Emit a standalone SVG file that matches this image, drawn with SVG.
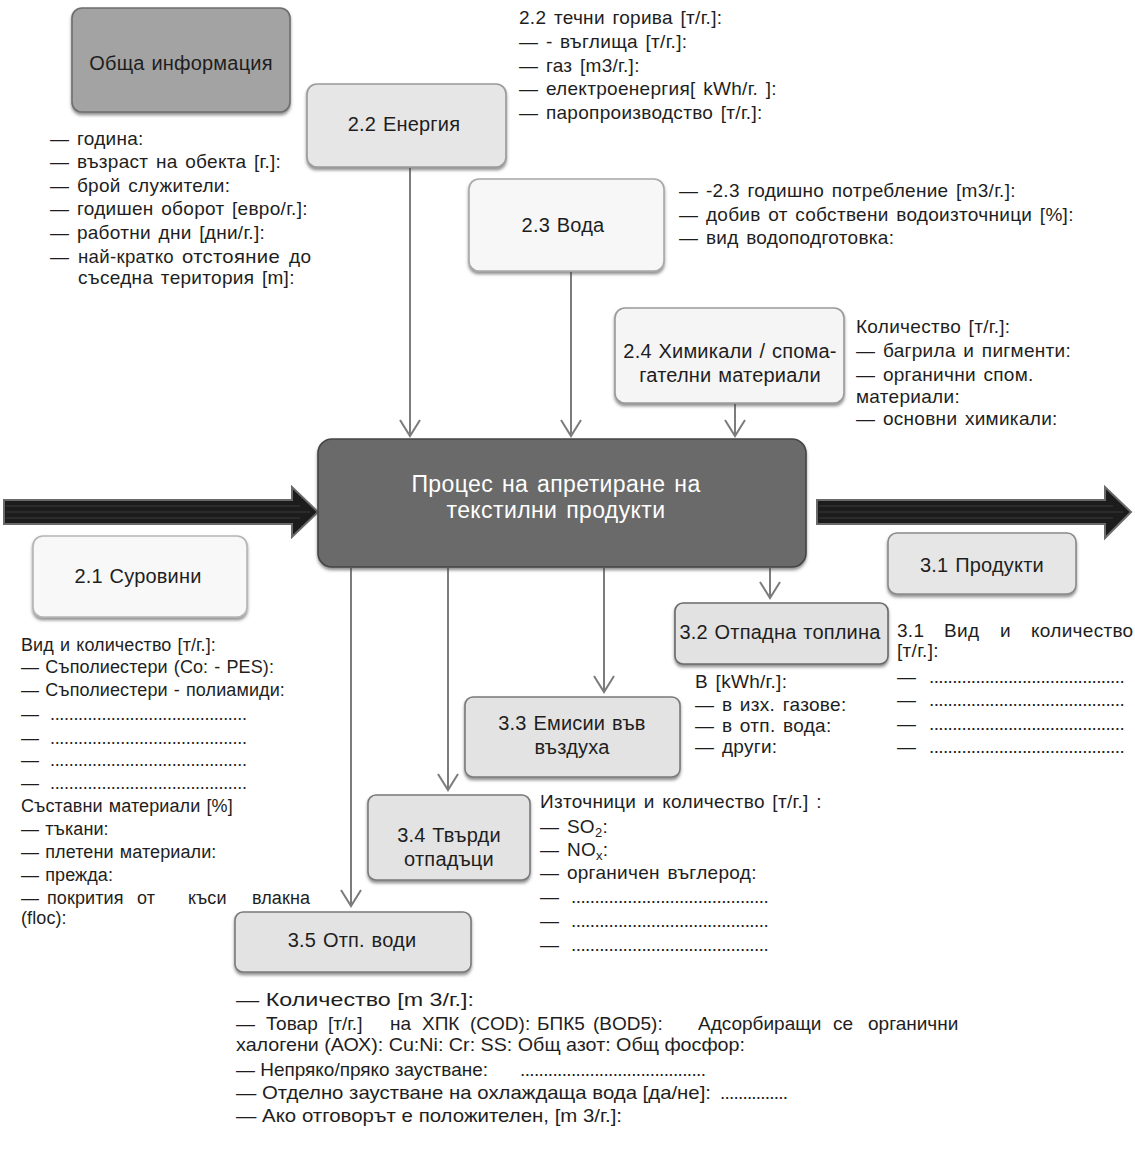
<svg xmlns="http://www.w3.org/2000/svg" width="1135" height="1160" viewBox="0 0 1135 1160">
<defs>
<style>
text{font-family:"Liberation Sans",Arial,sans-serif;fill:#1e1e1e;}
.t text{font-size:19px;word-spacing:2px;letter-spacing:0.3px;}
.r text{font-size:18px;word-spacing:1px;letter-spacing:0.1px;}
.bt text{font-size:19px;}
.b{font-size:20px;text-anchor:middle;word-spacing:1px;letter-spacing:0.2px;}
.w{font-size:23px;text-anchor:middle;fill:#ffffff;word-spacing:2px;letter-spacing:0.4px;}
.box{stroke-width:1.6;filter:url(#sh);}
.conn{stroke:#7c7c7c;stroke-width:2;fill:none;marker-end:url(#v);}
.big{fill:#1c1c1c;stroke:#6a6a6a;stroke-width:2;stroke-linejoin:miter;}
</style>
<filter id="sh" x="-10%" y="-10%" width="120%" height="130%">
<feDropShadow dx="0" dy="2.5" stdDeviation="1.5" flood-color="#444" flood-opacity="0.6"/>
</filter>
<marker id="v" viewBox="-18 -12 20 24" refX="0" refY="0" markerWidth="20" markerHeight="24" markerUnits="userSpaceOnUse" orient="auto">
<path d="M-16,-10 L0,0 L-16,10" fill="none" stroke="#7c7c7c" stroke-width="2"/>
</marker>
</defs>
<rect width="1135" height="1160" fill="#ffffff"/>

<g id="connectors">
<line class="conn" x1="410" y1="168" x2="410" y2="436"/>
<line class="conn" x1="571" y1="272" x2="571" y2="436"/>
<line class="conn" x1="735" y1="404" x2="735" y2="436"/>
<line class="conn" x1="351" y1="568" x2="351" y2="906"/>
<line class="conn" x1="448" y1="568" x2="448" y2="790"/>
<line class="conn" x1="604" y1="568" x2="604" y2="692"/>
<line class="conn" x1="770" y1="568" x2="770" y2="598"/>
<path class="big" d="M4,500 L292,500 L292,487 L318,512 L292,537 L292,524 L4,524 Z"/>
<path class="big" d="M817,500 L1105,500 L1105,487 L1131,512 L1105,538 L1105,524 L817,524 Z"/>
<g stroke="#3a3a3a" stroke-width="1">
<line x1="6" y1="506" x2="300" y2="506"/><line x1="6" y1="512" x2="310" y2="512"/><line x1="6" y1="518" x2="300" y2="518"/>
<line x1="819" y1="506" x2="1113" y2="506"/><line x1="819" y1="512" x2="1123" y2="512"/><line x1="819" y1="518" x2="1113" y2="518"/>
</g>
</g>

<g id="node-general">
<rect class="box" x="72" y="8" width="218" height="104" rx="10" fill="#a3a3a3" stroke="#6e6e6e"/>
<text class="b" x="181" y="70">Обща информация</text>
</g>
<g id="text-general" class="t">
<text x="50" y="145">— година:</text>
<text x="50" y="168">— възраст на обекта [г.]:</text>
<text x="50" y="192">— брой служители:</text>
<text x="50" y="215">— годишен оборот [евро/г.]:</text>
<text x="50" y="239">— работни дни [дни/г.]:</text>
<text y="263"><tspan x="50">—</tspan> <tspan x="78" textLength="96" lengthAdjust="spacingAndGlyphs">най-кратко</tspan> <tspan x="182" textLength="98" lengthAdjust="spacingAndGlyphs">отстояние</tspan> <tspan x="289">до</tspan></text>
<text x="78" y="284">съседна територия [m]:</text>
</g>

<g id="node-energy">
<rect class="box" x="307" y="84" width="199" height="83" rx="10" fill="#e6e6e6" stroke="#9a9a9a"/>
<text class="b" x="404" y="131">2.2 Енергия</text>
</g>
<g id="text-energy" class="t">
<text x="519" y="24">2.2 течни горива [т/г.]:</text>
<text x="519" y="48">— - въглища [т/г.]:</text>
<text x="519" y="72">— газ [m3/г.]:</text>
<text x="519" y="95">— електроенергия[ kWh/г. ]:</text>
<text x="519" y="119">— паропроизводство [т/г.]:</text>
</g>

<g id="node-water">
<rect class="box" x="469" y="179" width="195" height="92" rx="10" fill="#f7f7f7" stroke="#a8a8a8"/>
<text class="b" x="563" y="232">2.3 Вода</text>
</g>
<g id="text-water" class="t">
<text x="679" y="197">— -2.3 годишно потребление [m3/г.]:</text>
<text x="679" y="221">— добив от собствени водоизточници [%]:</text>
<text x="679" y="244">— вид водоподготовка:</text>
</g>

<g id="node-chem">
<rect class="box" x="615" y="308" width="229" height="95" rx="10" fill="#f5f5f5" stroke="#9a9a9a"/>
<text class="b" x="730" y="358">2.4 Химикали / спома-</text>
<text class="b" x="730" y="382">гателни материали</text>
</g>
<g id="text-chem" class="t">
<text x="856" y="333">Количество [т/г.]:</text>
<text x="856" y="357">— багрила и пигменти:</text>
<text x="856" y="381">— органични спом.</text>
<text x="856" y="403">материали:</text>
<text x="856" y="425">— основни химикали:</text>
</g>

<g id="node-process">
<rect class="box" x="318" y="439" width="488" height="128" rx="14" fill="#6b6b6b" stroke="#454545" stroke-width="2"/>
<text class="w" x="556" y="492">Процес на апретиране на</text>
<text class="w" x="556" y="518">текстилни продукти</text>
</g>

<g id="node-raw">
<rect class="box" x="33" y="536" width="214" height="81" rx="10" fill="#f8f8f8" stroke="#b5b5b5"/>
<text class="b" x="138" y="583">2.1 Суровини</text>
</g>
<g id="text-raw" class="r">
<text x="21" y="651">Вид и количество [т/г.]:</text>
<text x="21" y="673">— Съполиестери (Co: - PES):</text>
<text x="21" y="696">— Съполиестери - полиамиди:</text>
<text x="21" y="720">—</text><text x="50" y="720" textLength="197" lengthAdjust="spacing">..........................................</text>
<text x="21" y="744">—</text><text x="50" y="744" textLength="197" lengthAdjust="spacing">..........................................</text>
<text x="21" y="766">—</text><text x="50" y="766" textLength="197" lengthAdjust="spacing">..........................................</text>
<text x="21" y="789">—</text><text x="50" y="789" textLength="197" lengthAdjust="spacing">..........................................</text>
<text x="21" y="812">Съставни материали [%]</text>
<text x="21" y="835">— тъкани:</text>
<text x="21" y="858">— плетени материали:</text>
<text x="21" y="881">— прежда:</text>
<text y="904"><tspan x="21">—</tspan> <tspan x="47">покрития</tspan> <tspan x="137">от</tspan> <tspan x="188">къси</tspan> <tspan x="252">влакна</tspan></text>
<text x="21" y="924">(floc):</text>
</g>

<g id="node-products">
<rect class="box" x="888" y="533" width="188" height="61" rx="9" fill="#e6e6e6" stroke="#8a8a8a"/>
<text class="b" x="982" y="572">3.1 Продукти</text>
</g>
<g id="text-products" class="t">
<text y="637"><tspan x="897">3.1</tspan> <tspan x="944">Вид</tspan> <tspan x="1000">и</tspan> <tspan x="1031">количество</tspan></text>
<text x="897" y="657">[т/г.]:</text>
<text x="897" y="683">—</text><text x="929" y="683" textLength="196" lengthAdjust="spacing">..........................................</text>
<text x="897" y="706">—</text><text x="929" y="706" textLength="196" lengthAdjust="spacing">..........................................</text>
<text x="897" y="730">—</text><text x="929" y="730" textLength="196" lengthAdjust="spacing">..........................................</text>
<text x="897" y="753">—</text><text x="929" y="753" textLength="196" lengthAdjust="spacing">..........................................</text>
</g>

<g id="node-heat">
<rect class="box" x="675" y="603" width="213" height="61" rx="8" fill="#e2e2e2" stroke="#6a6a6a"/>
<text class="b" x="780" y="639" letter-spacing="0">3.2 Отпадна топлина</text>
</g>
<g id="text-heat" class="t">
<text x="695" y="688">В [kWh/г.]:</text>
<text x="695" y="711">— в изх. газове:</text>
<text x="695" y="732">— в отп. вода:</text>
<text x="695" y="753">— други:</text>
</g>

<g id="node-air">
<rect class="box" x="465" y="697" width="215" height="80" rx="8" fill="#e3e3e3" stroke="#7a7a7a"/>
<text class="b" x="572" y="730">3.3 Емисии във</text>
<text class="b" x="572" y="754">въздуха</text>
</g>

<g id="node-solid">
<rect class="box" x="368" y="795" width="162" height="85" rx="8" fill="#e3e3e3" stroke="#7a7a7a"/>
<text class="b" x="449" y="842">3.4 Твърди</text>
<text class="b" x="449" y="866">отпадъци</text>
</g>
<g id="text-air" class="t">
<text x="540" y="808">Източници и количество [т/г.] :</text>
<text x="540" y="833">— SO<tspan font-size="13" dy="4">2</tspan><tspan dy="-4">:</tspan></text>
<text x="540" y="856">— NO<tspan font-size="13" dy="4">x</tspan><tspan dy="-4">:</tspan></text>
<text x="540" y="879">— органичен въглерод:</text>
<text x="540" y="903">—</text><text x="571" y="903" textLength="198" lengthAdjust="spacing">..........................................</text>
<text x="540" y="927">—</text><text x="571" y="927" textLength="198" lengthAdjust="spacing">..........................................</text>
<text x="540" y="951">—</text><text x="571" y="951" textLength="198" lengthAdjust="spacing">..........................................</text>
</g>

<g id="node-wastewater">
<rect class="box" x="235" y="912" width="236" height="60" rx="8" fill="#e3e3e3" stroke="#7a7a7a"/>
<text class="b" x="352" y="947">3.5 Отп. води</text>
</g>
<g id="text-wastewater" class="bt">
<text x="236" y="1006" textLength="238" lengthAdjust="spacingAndGlyphs">— Количество [m 3/г.]:</text>
<text y="1030"><tspan x="236">—</tspan> <tspan x="266">Товар</tspan> <tspan x="328">[т/г.]</tspan> <tspan x="390">на</tspan> <tspan x="422">ХПК</tspan> <tspan x="470">(COD):</tspan> <tspan x="537">БПК5</tspan> <tspan x="593">(BOD5):</tspan> <tspan x="698">Адсорбиращи</tspan> <tspan x="833">се</tspan> <tspan x="868">органични</tspan></text>
<text x="236" y="1051" textLength="509" lengthAdjust="spacingAndGlyphs">халогени (АОХ): Cu:Ni: Cr: SS: Общ азот: Общ фосфор:</text>
<text x="236" y="1076" textLength="252" lengthAdjust="spacingAndGlyphs">— Непряко/пряко заустване:</text><text x="520" y="1076" textLength="186" lengthAdjust="spacing">........................................</text>
<text x="236" y="1099" textLength="475" lengthAdjust="spacingAndGlyphs">— Отделно заустване на охлаждаща вода [да/не]:</text><text x="720" y="1099" textLength="68" lengthAdjust="spacing">...............</text>
<text x="236" y="1122" textLength="386" lengthAdjust="spacingAndGlyphs">— Ако отговорът е положителен, [m 3/г.]:</text>
</g>
</svg>
